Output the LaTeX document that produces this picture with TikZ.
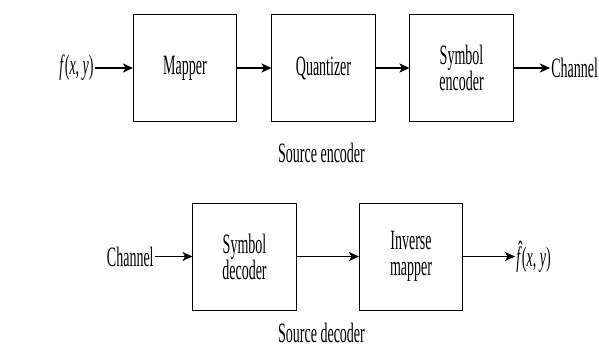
\documentclass[tikz,border=0pt]{standalone}
\usepackage{fontspec}
\setmainfont{Liberation Serif}
\usetikzlibrary{arrows.meta}

\begin{document}
\begin{tikzpicture}[x=1pt,y=-1pt,
	blk/.style={draw, line width=1pt, xscale=0.5, minimum width=207pt, minimum height=107pt, align=center, inner sep=0pt},
	lbl/.style={xscale=0.5, inner sep=2pt},
	font=\fontsize{28}{26}\selectfont, >={Stealth[length=10pt,width=9pt,inset=2.5pt]}, line width=1.6pt]
\useasboundingbox (0,0) rectangle (599,349);
% source encoder
\node [blk] (mapper) at (185,68) {Mapper};
\node [blk] (quant) at (323.5,68) {Quantizer};
\node [blk] (symenc) at (461.5,68) {Symbol\\encoder};
\node [lbl, anchor=east] (fin) at (95,68) {\textit{f}(\textit{x}, \textit{y})};
\node [lbl, anchor=west] (chout) at (550,68) {Channel};
\node [lbl, anchor=base] (enclbl) at (321.5,162) {Source encoder};
\draw [->] (fin) -- (mapper);
\draw [->] (mapper) -- (quant);
\draw [->] (quant) -- (symenc);
\draw [->] (symenc) -- (chout);
% source decoder
\node [blk] (symdec) at (244.5,256.5) {Symbol\\decoder};
\node [blk] (invmap) at (411,256.5) {Inverse\\mapper};
\node [lbl, anchor=east] (chin) at (155,256.5) {Channel};
\node [lbl, anchor=west] (fout) at (515,256.5)
	{\makebox[0pt][l]{\hspace{0.12em}\raisebox{0.22em}{\char"02C6}}\textit{f}(\textit{x}, \textit{y})};
\node [lbl, anchor=base] (declbl) at (321.5,342) {Source decoder};
\draw [->] (chin) -- (symdec);
\draw [->] (symdec) -- (invmap);
\draw [->] (invmap) -- (fout);
\end{tikzpicture}
\end{document}
